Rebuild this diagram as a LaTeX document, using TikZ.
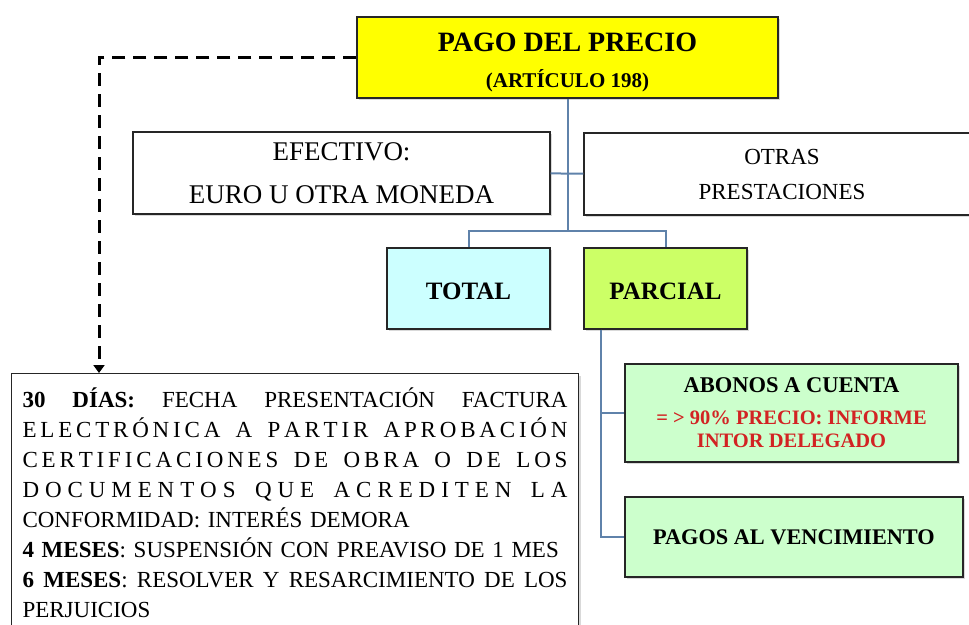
\documentclass[tikz,border=0pt]{standalone}
\usepackage{fontspec}
\setmainfont{Liberation Serif}
\usetikzlibrary{arrows.meta,shadows}
\definecolor{amarillo}{RGB}{255,255,0}
\definecolor{cian}{RGB}{204,255,255}
\definecolor{lima}{RGB}{204,255,102}
\definecolor{menta}{RGB}{204,255,204}
\definecolor{azulrama}{RGB}{95,130,170}
\definecolor{rojo}{RGB}{210,35,35}
\newlength\anchotexto
\setlength\anchotexto{545pt}
\newcommand\justa[1]{\makebox[\anchotexto][s]{\spaceskip=0pt \xspaceskip=0pt \frenchspacing #1}}
\ExplSyntaxOn
\NewDocumentCommand\repartir{m}
  {\makebox[\anchotexto][s]{\str_map_inline:nn{#1}{##1\hfil}\unskip}}
\ExplSyntaxOff
\begin{document}
\begin{tikzpicture}[x=1pt,y=-1pt,
    caja/.style={draw=black!85, line width=1.1pt, inner sep=0pt, align=center,
      drop shadow={shadow xshift=2pt, shadow yshift=-2pt, opacity=0.3}},
    rama/.style={draw=azulrama, line width=2pt},
    guia/.style={line width=3pt, dash pattern=on 13pt off 8pt, -{Triangle[length=8pt,width=11pt]}}]
\useasboundingbox (0,0) rectangle (969,624);
\clip (0,0) rectangle (969,624);
\node[caja, fill=amarillo, minimum width=421pt, minimum height=81pt, font=\bfseries\fontsize{28}{36}\selectfont] (precio) at (567.5,57.5) {\rule{0pt}{29pt}PAGO DEL PRECIO\\{\fontsize{21}{36}\selectfont (ARTÍCULO 198)}};
\node[caja, fill=white, minimum width=417pt, minimum height=82pt, font=\fontsize{27}{43}\selectfont] (efectivo) at (341.5,173) {EFECTIVO:\\EURO U OTRA MONEDA};
\node[caja, fill=white, minimum width=396pt, minimum height=82pt, font=\fontsize{23}{35}\selectfont] (otras) at (782,174) {OTRAS\\PRESTACIONES};
\node[caja, fill=cian, minimum width=163pt, minimum height=81pt, font=\bfseries\fontsize{25}{30}\selectfont] (total) at (468.5,288.5) {\rule{0pt}{22pt}TOTAL};
\node[caja, fill=lima, minimum width=163pt, minimum height=81pt, font=\bfseries\fontsize{25}{30}\selectfont] (parcial) at (665.5,288.5) {\rule{0pt}{22pt}PARCIAL};
\node[caja, fill=menta, minimum width=333pt, minimum height=98pt, font=\bfseries\fontsize{22.5}{23}\selectfont] (abonos) at (791.5,413) {ABONOS A CUENTA\\[9pt]\textcolor{rojo}{\fontsize{20.5}{23}\selectfont = > 90\% PRECIO: INFORME}\\\textcolor{rojo}{\fontsize{20.5}{23}\selectfont INTOR DELEGADO}};
\node[caja, fill=menta, minimum width=338pt, minimum height=80pt, font=\bfseries\fontsize{22.3}{26}\selectfont] (pagos) at (794,537) {PAGOS AL VENCIMIENTO};
\node[caja, fill=white, anchor=north west, text width=\anchotexto, inner xsep=11pt, inner ysep=12pt, align=left, font=\fontsize{23}{30}\selectfont] (plazos) at (11,373) {\noindent\rule{0pt}{22pt}\justa{\textbf{30 DÍAS:} FECHA PRESENTACIÓN FACTURA}\\
\repartir{ELECTRÓNICA A PARTIR APROBACIÓN}\\
\repartir{CERTIFICACIONES DE OBRA O DE LOS}\\
\repartir{DOCUMENTOS QUE ACREDITEN LA}\\
CONFORMIDAD: INTERÉS DEMORA\\
\mbox{\textbf{4 MESES}: SUSPENSIÓN CON PREAVISO DE 1 MES}\\
\justa{\textbf{6 MESES}: RESOLVER Y RESARCIMIENTO DE LOS}\\
PERJUICIOS};
\coordinate (nudo) at (567.5,231);
\draw[rama] (precio) -- (nudo);
\draw[rama] (nudo) -| (total);
\draw[rama] (nudo) -| (parcial);
\draw[rama] (efectivo) -- (otras);
\draw[rama] ([xshift=18pt]parcial.south west) |- (abonos);
\draw[rama] ([xshift=18pt]parcial.south west) |- (pagos);
\draw[guia] (precio.west) -| ([xshift=88pt]plazos.north west);
\end{tikzpicture}
\end{document}
